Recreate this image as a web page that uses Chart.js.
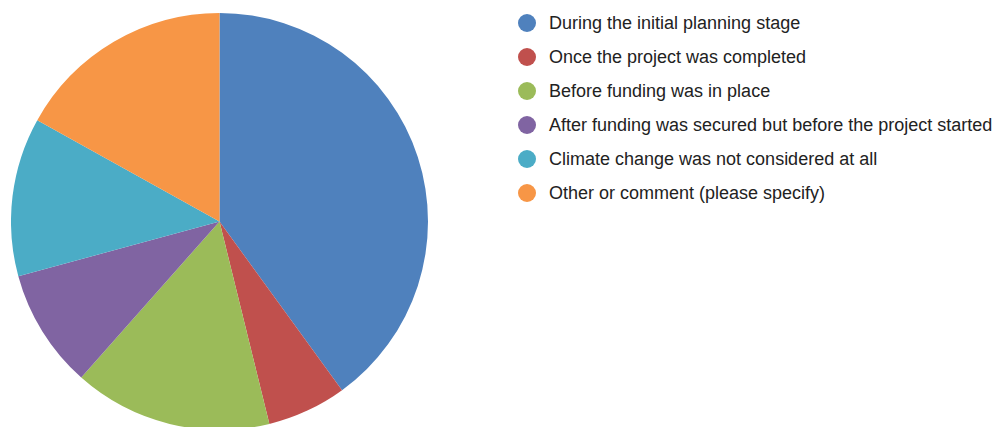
<!DOCTYPE html>
<html>
<head>
<meta charset="utf-8">
<script src="https://cdn.jsdelivr.net/npm/chart.js@4"></script>
<style>
  html, body { margin: 0; padding: 0; background: #fff; }
  body { width: 999px; height: 427px; overflow: hidden; position: relative; font-family: "Liberation Sans", Arial, sans-serif; }
  #pieBox { position: absolute; left: 11px; top: 13px; width: 417px; height: 417px; }
  #legend { position: absolute; left: 518px; top: 6px; margin: 0; padding: 0; list-style: none; }
  #legend li { height: 34px; line-height: 34px; font-size: 18px; color: #222; white-space: nowrap; position: relative; padding-left: 31px; }
  #legend .dot { position: absolute; left: 0; top: 8px; width: 18px; height: 18px; border-radius: 50%; }
</style>
</head>
<body>
<div id="pieBox"><canvas id="graficoPizza"></canvas></div>
<ul id="legend"></ul>
<script>
// dados do gráfico
const categorias = [
  'During the initial planning stage',
  'Once the project was completed',
  'Before funding was in place',
  'After funding was secured but before the project started',
  'Climate change was not considered at all',
  'Other or comment (please specify)'
];
const respostas = [26, 4, 10, 6, 8, 11];
const cores = ['#4f81bd', '#c0504d', '#9bbb59', '#8064a2', '#4bacc6', '#f79646'];

document.addEventListener("DOMContentLoaded", function () {
  // === LEGENDA (HTML) ===
  const legenda = document.getElementById('legend');
  categorias.forEach((cat, i) => {
    const li = document.createElement('li');
    const dot = document.createElement('span');
    dot.className = 'dot';
    dot.style.background = cores[i];
    li.appendChild(dot);
    li.appendChild(document.createTextNode(cat));
    legenda.appendChild(li);
  });

  // === GRÁFICO DE PIZZA ===
  const ctx = document.getElementById('graficoPizza').getContext('2d');
  new Chart(ctx, {
    type: 'pie',
    data: {
      labels: categorias,
      datasets: [{
        data: respostas,
        backgroundColor: cores,
        borderWidth: 0
      }]
    },
    options: {
      responsive: true,
      maintainAspectRatio: false,
      animation: false,
      layout: { padding: 0 },
      plugins: {
        legend: { display: false },
        tooltip: { enabled: false }
      }
    }
  });
});
</script>
</body>
</html>
